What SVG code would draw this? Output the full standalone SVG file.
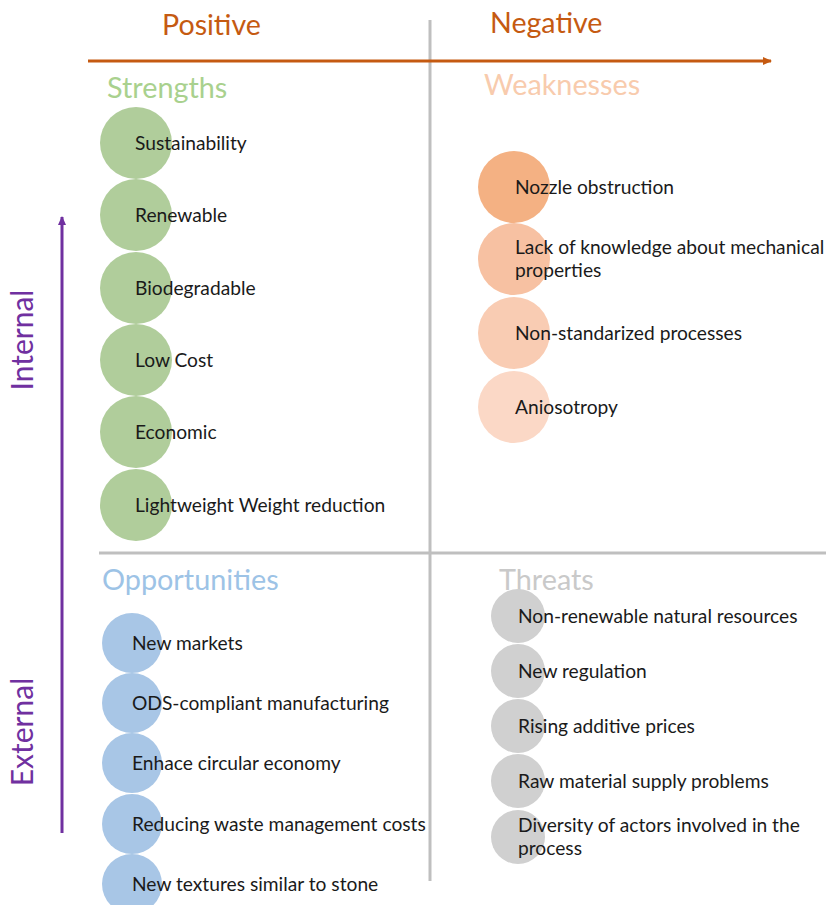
<svg xmlns="http://www.w3.org/2000/svg" width="826" height="905" viewBox="0 0 826 905">
<style>
text{font-family:Lato,"Open Sans","Liberation Sans",sans-serif;}
.item{font-size:19.2px;fill:#1a1a1a;}
.head{font-size:28.8px;}
.axis{font-size:28.6px;fill:#c55a11;}
.side{font-size:30px;fill:#7030a0;}
.s{fill:#b0cd9b;}
.o{fill:#a8c6e6;}
.t{fill:#d0d0d0;}
</style>
<defs>
<marker id="ah-o" markerWidth="10" markerHeight="10" refX="8" refY="5" orient="auto" markerUnits="userSpaceOnUse"><path d="M0,1 L9,5 L0,9 Z" fill="#c55a11"/></marker>
<marker id="ah-p" markerWidth="10" markerHeight="10" refX="8" refY="5" orient="auto" markerUnits="userSpaceOnUse"><path d="M0,1 L9,5 L0,9 Z" fill="#7030a0"/></marker>
</defs>
<rect width="826" height="905" fill="#ffffff"/>
<g id="connectors">
<line x1="430" y1="20" x2="430" y2="881" stroke="#bfbfbf" stroke-width="3"/>
<line x1="99" y1="553" x2="826" y2="553" stroke="#bfbfbf" stroke-width="3"/>
<line x1="88" y1="61" x2="771" y2="61" stroke="#c55a11" stroke-width="3" marker-end="url(#ah-o)"/>
<line x1="62" y1="833" x2="62" y2="217" stroke="#7030a0" stroke-width="3" marker-end="url(#ah-p)"/>
</g>
<g id="axis-labels">
<text class="axis" x="162" y="35">Positive</text>
<text class="axis" x="490" y="33">Negative</text>
<text class="side" transform="translate(33,340) rotate(-90)" text-anchor="middle">Internal</text>
<text class="side" transform="translate(33,732) rotate(-90)" text-anchor="middle">External</text>
</g>
<g id="strengths">
<text class="head" x="107" y="98" fill="#a9d18e">Strengths</text>
<circle class="s" cx="136" cy="143" r="36"/>
<circle class="s" cx="136" cy="215" r="36"/>
<circle class="s" cx="136" cy="288" r="36"/>
<circle class="s" cx="136" cy="360" r="36"/>
<circle class="s" cx="136" cy="432" r="36"/>
<circle class="s" cx="136" cy="505" r="36"/>
<text class="item" x="135" y="150">Sustainability</text>
<text class="item" x="135" y="222">Renewable</text>
<text class="item" x="135" y="295">Biodegradable</text>
<text class="item" x="135" y="367">Low Cost</text>
<text class="item" x="135" y="439">Economic</text>
<text class="item" x="135" y="512">Lightweight Weight reduction</text>
</g>
<g id="weaknesses">
<text class="head" x="484" y="95" fill="#f8cbad">Weaknesses</text>
<circle cx="514" cy="187" r="36" fill="#f4b183"/>
<circle cx="514" cy="259" r="36" fill="#f7c1a2"/>
<circle cx="514" cy="333" r="36" fill="#f9ccb3"/>
<circle cx="514" cy="407" r="36" fill="#fbd8c6"/>
<text class="item" x="515" y="194">Nozzle obstruction</text>
<text class="item" x="515" y="254">Lack of knowledge about mechanical</text>
<text class="item" x="515" y="277">properties</text>
<text class="item" x="515" y="340">Non-standarized processes</text>
<text class="item" x="515" y="414">Aniosotropy</text>
</g>
<g id="opportunities">
<text class="head" x="102" y="590" fill="#9dc3e6">Opportunities</text>
<circle class="o" cx="132" cy="643" r="30"/>
<circle class="o" cx="132" cy="703" r="30"/>
<circle class="o" cx="132" cy="763" r="30"/>
<circle class="o" cx="132" cy="824" r="30"/>
<circle class="o" cx="132" cy="884" r="30"/>
<text class="item" x="132" y="650">New markets</text>
<text class="item" x="132" y="710">ODS-compliant manufacturing</text>
<text class="item" x="132" y="770">Enhace circular economy</text>
<text class="item" x="132" y="831">Reducing waste management costs</text>
<text class="item" x="132" y="891">New textures similar to stone</text>
</g>
<g id="threats">
<text class="head" x="499" y="590" fill="#c9c9c9">Threats</text>
<circle class="t" cx="518" cy="616" r="27"/>
<circle class="t" cx="518" cy="671" r="27"/>
<circle class="t" cx="518" cy="726" r="27"/>
<circle class="t" cx="518" cy="781" r="27"/>
<circle class="t" cx="518" cy="837" r="27"/>
<text class="item" x="518" y="623">Non-renewable natural resources</text>
<text class="item" x="518" y="678">New regulation</text>
<text class="item" x="518" y="733">Rising additive prices</text>
<text class="item" x="518" y="788">Raw material supply problems</text>
<text class="item" x="518" y="832">Diversity of actors involved in the</text>
<text class="item" x="518" y="855">process</text>
</g>
</svg>
